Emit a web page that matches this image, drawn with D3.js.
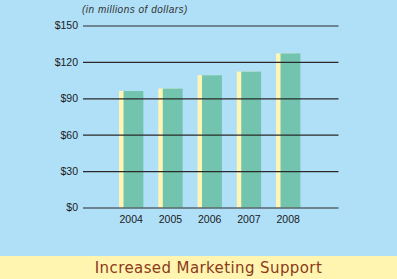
<!DOCTYPE html>
<html>
<head>
<meta charset="utf-8">
<script src="https://cdn.jsdelivr.net/npm/d3@7"></script>
<style>
  body { margin: 0; padding: 0; background: #b0e0f8; }
  svg { display: block; }
</style>
</head>
<body>
<svg id="chart" width="397" height="279"></svg>
<script>
// data
var years = ["2004", "2005", "2006", "2007", "2008"]
var values = [96, 98, 109, 112, 127]
var yTicks = [0, 30, 60, 90, 120, 150]
var subtitle = "(in millions of dollars)"
var title = "Increased Marketing Support"

var width = 397, height = 279
var margin = { left: 83, right: 58.5, top: 25.5, bottom: 71.5 }
var colors = { bg: "#b0e0f8", bar: "#72c4ae", shadow: "#fff5b5", grid: "#2a2a2a", banner: "#fff5b0", title: "#8b3a1a" }

var svg = d3.select("#chart")
svg.append("rect").attr("width", width).attr("height", height).attr("fill", colors.bg)

var yScale = d3.scaleLinear().domain([0, 150]).range([height - margin.bottom, margin.top])
var xScale = d3.scaleBand().domain(years).range([99.4, 320]).paddingInner(0.38).paddingOuter(0.5)
var shadowOffset = 4.5

// bars: yellow shadow behind, green bar shifted right
svg.selectAll(".shadow").data(values).join("rect").attr("class", "shadow")
    .attr("x", (d, i) => xScale(years[i]))
    .attr("y", d => yScale(d))
    .attr("width", xScale.bandwidth() - shadowOffset)
    .attr("height", d => yScale(0) - yScale(d))
    .attr("fill", colors.shadow)
svg.selectAll(".bar").data(values).join("rect").attr("class", "bar")
    .attr("x", (d, i) => xScale(years[i]) + shadowOffset)
    .attr("y", d => yScale(d))
    .attr("width", xScale.bandwidth() - shadowOffset)
    .attr("height", d => yScale(0) - yScale(d))
    .attr("fill", colors.bar)

// gridlines on top of bars
var yAxis = d3.axisLeft(yScale).tickValues(yTicks).tickFormat(d => "$" + d)
    .tickSize(-(width - margin.left - margin.right)).tickPadding(5)
var gy = svg.append("g").attr("transform", "translate(" + margin.left + ",0)").call(yAxis)
gy.select(".domain").remove()
gy.selectAll(".tick line").attr("stroke", colors.grid).attr("stroke-width", 1.2)
gy.selectAll(".tick text").attr("fill", "#1a1a1a").attr("font-family", "Liberation Sans, Arial, sans-serif").attr("font-size", 10.5)

// year labels
var xAxis = d3.axisBottom(xScale).tickSize(0).tickPadding(8)
var gx = svg.append("g").attr("transform", "translate(0," + yScale(0) + ")").call(xAxis)
gx.select(".domain").remove()
gx.selectAll(".tick text").attr("fill", "#1a1a1a").attr("font-family", "Liberation Sans, Arial, sans-serif").attr("font-size", 10.5)

svg.append("text").attr("x", 82).attr("y", 12.5).text(subtitle)
    .attr("font-family", "Liberation Sans, Arial, sans-serif").attr("font-style", "italic")
    .attr("font-size", 10).attr("letter-spacing", 0.5).attr("fill", "#333")

// banner
svg.append("rect").attr("x", 0).attr("y", 256).attr("width", width).attr("height", height - 256).attr("fill", colors.banner)
svg.append("text").attr("x", 208.5).attr("y", 273).attr("text-anchor", "middle").text(title)
    .attr("font-family", "DejaVu Sans, Verdana, sans-serif").attr("font-size", 15).attr("letter-spacing", 0.4).attr("fill", colors.title)
</script>
</body>
</html>
